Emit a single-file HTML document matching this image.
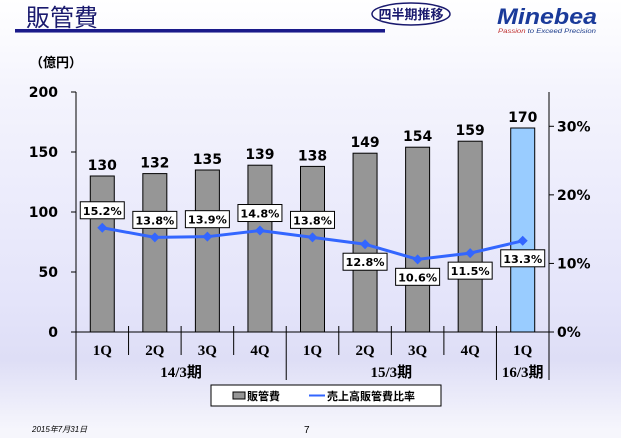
<!DOCTYPE html>
<html><head><meta charset="utf-8"><style>
body{margin:0;width:621px;height:438px;overflow:hidden;font-family:"Liberation Sans","Noto Sans CJK JP",sans-serif;}
#bg{position:absolute;left:0;top:0;width:621px;height:438px;background:linear-gradient(#ffffff 0px,#f4f4fd 90px,#e4e4fa 300px,#dedef6 360px,#f6f6fc 430px);}
</style></head><body>
<div id="bg"></div>
<svg width="621" height="438" style="position:absolute;left:0;top:0" font-family="Liberation Sans, Noto Sans CJK JP, sans-serif">
<text x="26" y="26" font-size="24" fill="#1a1a6e">販管費</text>
<rect x="15" y="29" width="370" height="3" fill="#1a1a8a"/>
<rect x="15" y="32" width="370" height="1" fill="#8080c0"/>
<ellipse cx="411" cy="14" rx="39" ry="11" fill="#fff" stroke="#1a1a6e" stroke-width="1.5"/>
<text x="411" y="19" font-size="13" font-weight="bold" text-anchor="middle" fill="#1a1a6e">四半期推移</text>
<text x="497" y="24" font-size="22" font-weight="bold" font-style="italic" fill="#1a3a9a" textLength="100" lengthAdjust="spacingAndGlyphs">Minebea</text>
<text x="498" y="33" font-size="6.5" font-style="italic" fill="#c03030" textLength="98" lengthAdjust="spacingAndGlyphs">Passion <tspan fill="#1a3a8a">to Exceed Precision</tspan></text>
<text x="30" y="67" font-size="13" font-weight="bold">（億円）</text>
<g id="chart"></g>
<text x="32" y="432" font-size="8" font-style="italic">2015年7月31日</text>
<text x="304" y="433" font-size="10">7</text>
</svg>
<script>
const categories=["1Q","2Q","3Q","4Q","1Q","2Q","3Q","4Q","1Q"];
const sga=[130,132,135,139,138,149,154,159,170];
const ratio=[15.2,13.8,13.9,14.8,13.8,12.8,10.6,11.5,13.3];
const leftTicks=[0,50,100,150,200];
const rightTicks=[0,10,20,30];
const years=[{label:"14/3期",from:0,to:4},{label:"15/3期",from:4,to:8},{label:"16/3期",from:8,to:9}];
const labelBelow=[false,false,false,false,false,true,true,true,true];
const X0=76,X1=549,Y0=332,Y1=92,N=categories.length,bw=(X1-X0)/N;
const yL=v=>Y0-(v/200)*(Y0-Y1);
const yR=v=>Y0-(v/35)*(Y0-Y1);
const xC=i=>X0+bw*(i+0.5);
const NS="http://www.w3.org/2000/svg",g=document.getElementById('chart');
function mk(t,a,txt){const e=document.createElementNS(NS,t);for(const k in a)e.setAttribute(k,a[k]);if(txt!=null)e.textContent=txt;g.appendChild(e);return e;}
const F='Verdana, DejaVu Sans, Noto Sans CJK JP, sans-serif';
let e=mk('line',{x1:X0,y1:Y1,x2:X0,y2:380,stroke:'#000'});
e=mk('line',{x1:X1,y1:Y1,x2:X1,y2:380,stroke:'#000'});
e=mk('line',{x1:X0,y1:Y0,x2:X1,y2:Y0,stroke:'#000'});
leftTicks.forEach(v=>{const y=yL(v);
 e=mk('line',{x1:X0-5,y1:y,x2:X0,y2:y,stroke:'#000'});
 e=mk('text',{x:58,y:y+5,'font-size':14,'font-weight':'bold','text-anchor':'end','font-family':F},v);});
rightTicks.forEach(v=>{const y=yR(v);
 e=mk('line',{x1:X1,y1:y,x2:X1+5,y2:y,stroke:'#000'});
 e=mk('text',{x:557,y:y+5,'font-size':14,'font-weight':'bold','font-family':F},v+'%');});
sga.forEach((v,i)=>{const x=xC(i)-12,y=yL(v);
 e=mk('rect',{x:x,y:y,width:24,height:Y0-y,fill:i==N-1?'#99ccff':'#969696',stroke:'#000','stroke-width':1});
 e=mk('text',{x:xC(i),y:y-6,'font-size':14,'font-weight':'bold','text-anchor':'middle','font-family':F},v);});
categories.forEach((c,i)=>{
 e=mk('text',{x:xC(i),y:355,'font-size':15,'font-weight':'bold','text-anchor':'middle','font-family':'Liberation Serif, serif'},c);
 if(i>0){e=mk('line',{x1:X0+bw*i,y1:Y0-6,x2:X0+bw*i,y2:(i%4==0?380:355),stroke:'#000'});}});
years.forEach(yr=>{e=mk('text',{x:X0+bw*(yr.from+yr.to)/2,y:377,'font-size':15,'font-weight':'bold','text-anchor':'middle','font-family':'Liberation Serif, Noto Sans CJK JP, serif'},yr.label);});
e=mk('polyline',{points:ratio.map((v,i)=>xC(i)+','+yR(v)).join(' '),fill:'none',stroke:'#3366ff','stroke-width':3});
ratio.forEach((v,i)=>{const x=xC(i),y=yR(v);
 e=mk('path',{d:`M${x} ${y-5}L${x+5} ${y}L${x} ${y+5}L${x-5} ${y}Z`,fill:'#3366ff'});
 const by=labelBelow[i]?y+9:y-26;
 e=mk('rect',{x:x-22,y:by,width:44,height:17,fill:'#fff',stroke:'#000'});
 e=mk('text',{x:x,y:by+13,'font-size':11,'font-weight':'bold','text-anchor':'middle','font-family':F,textLength:39,lengthAdjust:'spacingAndGlyphs'},v.toFixed(1)+'%');});
e=mk('rect',{x:211,y:385,width:230,height:21,fill:'#fff',stroke:'#000'});
e=mk('rect',{x:233,y:392,width:12,height:7,fill:'#969696',stroke:'#000'});
e=mk('text',{x:247,y:400,'font-size':11,'font-weight':'bold'},'販管費');
e=mk('line',{x1:309,y1:395.5,x2:325,y2:395.5,stroke:'#3366ff','stroke-width':2});
e=mk('text',{x:327,y:400,'font-size':11,'font-weight':'bold'},'売上高販管費比率');
</script>
</body></html>
